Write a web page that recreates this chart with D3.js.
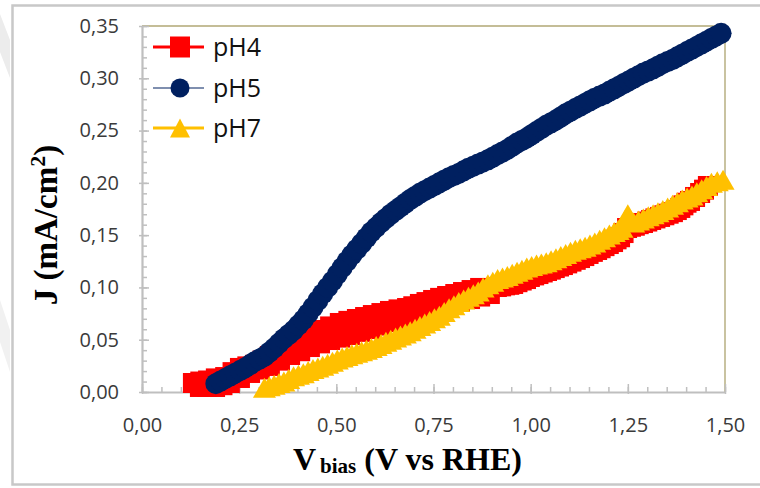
<!DOCTYPE html>
<html><head><meta charset="utf-8">
<script src="https://cdn.jsdelivr.net/npm/d3@7/dist/d3.min.js"></script>
<style>html,body{margin:0;padding:0;background:#fff;}svg{display:block;}</style>
</head><body>
<script>
// ---- data ----
const xTicks = [0, 0.25, 0.5, 0.75, 1.0, 1.25, 1.5];
const xTickLabels = ["0,00", "0,25", "0,50", "0,75", "1,00", "1,25", "1,50"];
const yTicks = [0, 0.05, 0.10, 0.15, 0.20, 0.25, 0.30, 0.35];
const yTickLabels = ["0,00", "0,05", "0,10", "0,15", "0,20", "0,25", "0,30", "0,35"];
const seriesNames = ["pH4", "pH5", "pH7"];

// pH4 (readings of upper edge, lower edge, then single band) - sorted by V when drawn
const pH4V = [0.131,0.150,0.170,0.190,0.214,0.233,0.252,0.271,0.291,0.310,0.329,0.348,0.368,0.388,0.407,0.432,0.458,0.484,0.509,0.531,0.553,0.574,0.594,0.616,0.638,0.660,0.682,0.698,0.715,0.732,0.749,0.767,0.785,0.806,0.826,0.848,0.870,
  0.149,0.168,0.188,0.207,0.226,0.252,0.278,0.303,0.329,0.355,0.381,0.407,0.432,0.458,0.484,0.510,0.535,0.561,0.587,0.613,0.638,0.664,0.690,0.716,0.741,0.767,0.792,0.818,0.844,0.870,0.895,
  0.913,0.924,0.934,0.945,0.955,0.966,0.977,0.988,0.998,1.009,1.020,1.031,1.042,1.052,1.062,1.073,1.083,1.094,1.105,1.116,1.127,1.138,1.149,1.160,1.171,1.180,1.190,1.201,1.212,1.221,1.230,1.239,1.248,1.258,1.268,1.278,1.289,1.300,1.310,1.321,1.333,1.344,1.355,1.366,1.376,1.385,1.393,1.401,1.410,1.423,1.436,1.446,1.456];
const pH4J = [0.0086,0.010,0.011,0.013,0.0143,0.019,0.023,0.0245,0.026,0.030,0.0344,0.039,0.044,0.048,0.0516,0.0555,0.0593,0.0627,0.066,0.068,0.0698,0.0717,0.0736,0.0755,0.0775,0.079,0.0803,0.082,0.0842,0.086,0.088,0.090,0.0918,0.0937,0.0956,0.0975,0.0995,
  0.0048,0.0048,0.0048,0.0065,0.0086,0.0134,0.0182,0.0215,0.0249,0.030,0.0354,0.039,0.043,0.0465,0.0497,0.052,0.0545,0.0575,0.0602,0.0635,0.0669,0.070,0.0727,0.0755,0.0784,0.0813,0.0842,0.0865,0.0889,0.0913,0.0937,
  0.1004,0.101,0.102,0.1025,0.1033,0.105,0.1066,0.108,0.110,0.1115,0.1128,0.1143,0.1157,0.117,0.1185,0.120,0.1214,0.123,0.1247,0.1264,0.1281,0.130,0.132,0.134,0.1358,0.1375,0.1395,0.1415,0.1434,0.146,0.148,0.152,0.1568,0.158,0.159,0.1605,0.1616,0.163,0.1645,0.166,0.1674,0.169,0.1705,0.172,0.174,0.176,0.1785,0.181,0.1827,0.1865,0.1903,0.1935,0.197];

const pH5V = [0.19,0.2025,0.215,0.2275,0.24,0.2525,0.265,0.2775,0.29,0.3025,0.315,0.3275,0.34,0.3525,0.365,0.3775,0.39,0.4025,0.415,0.4275,0.44,0.4525,0.465,0.4775,0.49,0.5025,0.515,0.5275,0.54,0.5525,0.565,0.5775,0.59,0.6025,0.615,0.6275,0.64,0.6525,0.665,0.6775,0.69,0.7025,0.715,0.7275,0.74,0.7525,0.765,0.7775,0.79,0.8025,0.815,0.8275,0.84,0.8525,0.865,0.8775,0.89,0.9025,0.915,0.9275,0.94,0.9525,0.965,0.9775,0.99,1.0025,1.015,1.0275,1.04,1.0525,1.065,1.0775,1.09,1.1025,1.115,1.1275,1.14,1.1525,1.165,1.1775,1.19,1.2025,1.215,1.2275,1.24,1.2525,1.265,1.2775,1.29,1.3025,1.315,1.3275,1.34,1.3525,1.365,1.3775,1.39,1.4025,1.415,1.4275,1.44,1.4525,1.465,1.4775,1.49];
const pH5J = [0.008,0.0105,0.013,0.0155,0.018,0.0205,0.023,0.026,0.029,0.0315,0.034,0.038,0.042,0.0465,0.051,0.055,0.059,0.064,0.069,0.075,0.081,0.0875,0.094,0.100,0.106,0.1125,0.119,0.125,0.131,0.1365,0.142,0.1475,0.153,0.1575,0.162,0.166,0.170,0.1735,0.177,0.1805,0.184,0.187,0.190,0.1925,0.195,0.1975,0.200,0.2025,0.205,0.207,0.209,0.2115,0.214,0.216,0.218,0.220,0.222,0.2245,0.227,0.2295,0.232,0.235,0.238,0.2405,0.243,0.246,0.249,0.252,0.255,0.2575,0.260,0.263,0.266,0.2685,0.271,0.2735,0.276,0.2785,0.281,0.283,0.285,0.2875,0.290,0.2925,0.295,0.2975,0.300,0.3025,0.305,0.307,0.309,0.3115,0.314,0.316,0.318,0.3205,0.323,0.3255,0.328,0.3305,0.333,0.3355,0.338,0.3405,0.343];

const pH7V = [0.315,0.3275,0.34,0.3525,0.365,0.3775,0.39,0.4025,0.415,0.4275,0.44,0.4525,0.465,0.4775,0.49,0.5025,0.515,0.5275,0.54,0.5525,0.565,0.5775,0.59,0.6025,0.615,0.6275,0.64,0.6525,0.665,0.6775,0.69,0.7025,0.715,0.7275,0.74,0.7525,0.765,0.7775,0.79,0.8025,0.815,0.8275,0.84,0.8525,0.865,0.8775,0.89,0.9025,0.915,0.9275,0.94,0.9525,0.965,0.9775,0.99,1.0025,1.015,1.0275,1.04,1.0525,1.065,1.0775,1.09,1.1025,1.115,1.1275,1.14,1.1525,1.165,1.1775,1.19,1.2025,1.215,1.225,1.235,1.245,1.25,1.257,1.265,1.2775,1.29,1.3025,1.315,1.3275,1.34,1.3525,1.365,1.3775,1.39,1.4025,1.415,1.4275,1.44,1.4525,1.465,1.48,1.495];
const pH7J = [0.004,0.0055,0.007,0.0085,0.010,0.0125,0.015,0.0165,0.018,0.020,0.022,0.0235,0.025,0.027,0.029,0.031,0.033,0.0345,0.036,0.0375,0.039,0.0405,0.042,0.044,0.046,0.048,0.050,0.052,0.054,0.056,0.058,0.0605,0.063,0.0655,0.068,0.0705,0.073,0.0765,0.080,0.083,0.086,0.0885,0.091,0.0935,0.096,0.100,0.103,0.1055,0.108,0.1095,0.111,0.113,0.115,0.117,0.119,0.1205,0.122,0.123,0.124,0.126,0.128,0.130,0.132,0.134,0.136,0.1375,0.139,0.141,0.143,0.1455,0.148,0.1505,0.153,0.155,0.157,0.166,0.170,0.165,0.162,0.164,0.166,0.168,0.170,0.172,0.174,0.1765,0.179,0.1815,0.184,0.186,0.188,0.191,0.194,0.197,0.200,0.2015,0.203];

// ---- chart ----
const W = 760, H = 488;
const M = {left: 142, right: 725, top: 26, bottom: 392};
const colors = {pH4: "#ff0000", pH5: "#002060", pH7: "#ffc000"};

const svg = d3.select("body").append("svg").attr("width", W).attr("height", H);

// faint watermark shapes on the left edge
svg.append("path").attr("d", "M0,14 L10,40 L10,78 L0,52 Z").attr("fill", "#ececec");
svg.append("path").attr("d", "M0,300 L10,330 L10,372 L0,342 Z").attr("fill", "#f1f1f1");

// outer frame
svg.append("rect").attr("x", 12.5).attr("y", 5.5).attr("width", 760).attr("height", 479)
  .attr("fill", "none").attr("stroke", "#c8c8c8").attr("stroke-width", 2.5);

const x = d3.scaleLinear().domain([0, 1.5]).range([M.left, M.right]);
const y = d3.scaleLinear().domain([0, 0.35]).range([M.bottom, M.top]);

// top/right border of plot area
svg.append("path")
  .attr("d", `M${M.left},${M.top}H${M.right}V${M.bottom}`)
  .attr("fill", "none").attr("stroke", "#c4bd97").attr("stroke-width", 1.8);

const axisColor = "#bfbfbf";
const yMinor = d3.range(0, 0.3501, 0.01);
const xMinor = d3.range(0, 1.5001, 0.05);
svg.append("g").attr("transform", `translate(${M.left},0)`)
  .call(d3.axisLeft(y).tickValues(yMinor).tickSize(-5).tickFormat(""))
  .call(g => { g.select(".domain").remove(); g.selectAll("line").attr("stroke", axisColor).attr("stroke-width", 1.5); });
svg.append("g").attr("transform", `translate(0,${M.bottom})`)
  .call(d3.axisBottom(x).tickValues(xMinor).tickSize(-5).tickFormat(""))
  .call(g => { g.select(".domain").remove(); g.selectAll("line").attr("stroke", axisColor).attr("stroke-width", 1.5); });

const yAxis = svg.append("g").attr("transform", `translate(${M.left},0)`)
  .call(d3.axisLeft(y).tickValues(yTicks).tickFormat((d, i) => yTickLabels[i]).tickSizeInner(3).tickSizeOuter(0).tickPadding(20));
yAxis.select(".domain").attr("stroke", axisColor).attr("stroke-width", 2.2);
yAxis.selectAll("line").attr("stroke", axisColor).attr("stroke-width", 1.5).attr("x2", -3).attr("x1", 7);
yAxis.selectAll("text").attr("font-family", "'Open Sans', sans-serif").attr("font-size", 20).attr("fill", "#3a3a3a");

const xAxis = svg.append("g").attr("transform", `translate(0,${M.bottom})`)
  .call(d3.axisBottom(x).tickValues(xTicks).tickFormat((d, i) => xTickLabels[i]).tickSizeInner(3).tickSizeOuter(0).tickPadding(23));
xAxis.select(".domain").attr("stroke", axisColor).attr("stroke-width", 2.2);
xAxis.selectAll("line").attr("stroke", axisColor).attr("stroke-width", 1.5).attr("y2", 2).attr("y1", -8);
xAxis.selectAll("text").attr("font-family", "'Open Sans', sans-serif").attr("font-size", 20).attr("fill", "#3a3a3a");

// series
const tri = (w, h) => `M0,${-h/2}L${w/2},${h/2}L${-w/2},${h/2}Z`;
function series(V, J, name, lineW, marker) {
  const pts = d3.sort(V.map((v, i) => [v, J[i]]), d => d[0]);
  const g = svg.append("g");
  g.append("path").datum(pts)
    .attr("d", d3.line().x(d => x(d[0])).y(d => y(d[1])))
    .attr("fill", "none").attr("stroke", colors[name]).attr("stroke-width", lineW);
  const m = g.selectAll("g.m").data(pts).join("g")
    .attr("transform", d => `translate(${x(d[0])},${y(d[1])})`);
  if (marker === "square") m.append("rect").attr("x", -10).attr("y", -10).attr("width", 20).attr("height", 20).attr("fill", colors[name]);
  if (marker === "circle") m.append("circle").attr("r", 10.5).attr("fill", colors[name]);
  if (marker === "triangle") m.append("path").attr("d", tri(23, 20)).attr("fill", colors[name]);
}
series(pH4V, pH4J, "pH4", 3, "square");
series(pH5V, pH5J, "pH5", 1, "circle");
series(pH7V, pH7J, "pH7", 3, "triangle");

// legend
const legY = [47, 88, 128];
const legLW = [3, 1.2, 3];
const legMk = ["square", "circle", "triangle"];
seriesNames.forEach((n, i) => {
  const g = svg.append("g").attr("transform", `translate(180,${legY[i]})`);
  g.append("line").attr("x1", -27).attr("x2", 24).attr("stroke", colors[n]).attr("stroke-width", legLW[i]);
  if (legMk[i] === "square") g.append("rect").attr("x", -10).attr("y", -10.5).attr("width", 20).attr("height", 21).attr("fill", colors[n]);
  if (legMk[i] === "circle") g.append("circle").attr("r", 9.5).attr("fill", colors[n]);
  if (legMk[i] === "triangle") g.append("path").attr("d", tri(20, 19)).attr("fill", colors[n]);
  g.append("text").attr("x", 33).attr("y", 9).text(n)
    .attr("font-family", "'Open Sans', sans-serif").attr("font-size", 25).attr("fill", "#111");
});

// axis titles
const xt = svg.append("text").attr("x", 293).attr("y", 470)
  .attr("font-family", "'Liberation Serif', 'Times New Roman', serif").attr("font-weight", "bold").attr("fill", "#000");
xt.append("tspan").attr("font-size", 32).text("V");
xt.append("tspan").attr("font-size", 21).attr("dx", 4).attr("dy", 3).text("bias");
xt.append("tspan").attr("font-size", 32).attr("dy", -3).text(" (V vs RHE)");

const yt = svg.append("text").attr("transform", "translate(57,225) rotate(-90)")
  .attr("text-anchor", "middle")
  .attr("font-family", "'Liberation Serif', 'Times New Roman', serif").attr("font-weight", "bold").attr("fill", "#000");
yt.append("tspan").attr("font-size", 33).text("J (mA/cm");
yt.append("tspan").attr("font-size", 22).attr("dy", -12).text("2");
yt.append("tspan").attr("font-size", 33).attr("dy", 12).text(")");
</script>
</body></html>
